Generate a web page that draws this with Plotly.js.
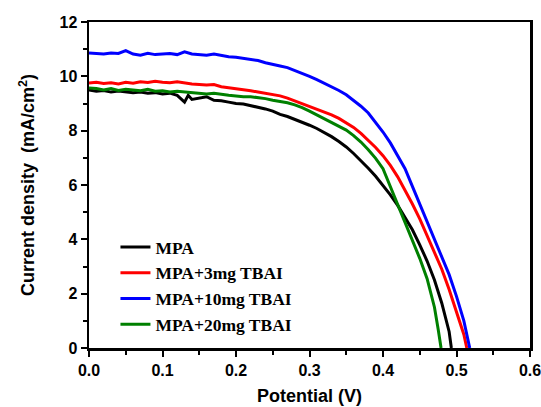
<!DOCTYPE html>
<html>
<head>
<meta charset="utf-8">
<script src="https://cdn.plot.ly/plotly-3.0.1.min.js"></script>
<style>html,body{margin:0;padding:0;background:#fff;}#chart{width:541px;height:407px;}</style>
</head>
<body>
<div id="chart"></div>
<script>
const seriesNames = ["MPA", "MPA+3mg TBAI", "MPA+10mg TBAI", "MPA+20mg TBAI"];
const seriesColors = ["#000000", "#ff0000", "#0000ff", "#008000"];

const vMPA = [0,0.01,0.02,0.03,0.04,0.05,0.06,0.07,0.08,0.09,0.10,0.11,0.12,0.13,0.135,0.14,0.15,0.16,0.17,0.18,0.19,0.20,0.21,0.22,0.23,0.24,0.25,0.26,0.27,0.28,0.29,0.30,0.31,0.32,0.33,0.34,0.35,0.36,0.37,0.38,0.39,0.40,0.41,0.42,0.43,0.44,0.45,0.46,0.47,0.48,0.49,0.493];
const jMPA = [9.50,9.45,9.48,9.42,9.46,9.44,9.40,9.42,9.38,9.40,9.35,9.38,9.30,9.05,9.30,9.15,9.20,9.25,9.12,9.10,9.05,9.00,8.98,8.92,8.88,8.80,8.72,8.60,8.52,8.42,8.32,8.20,8.08,7.94,7.78,7.60,7.40,7.16,6.90,6.62,6.32,6.00,5.64,5.25,4.80,4.35,3.80,3.20,2.50,1.65,0.60,0];

const v3 = [0,0.01,0.02,0.03,0.04,0.05,0.06,0.07,0.08,0.09,0.10,0.11,0.12,0.13,0.14,0.15,0.16,0.17,0.18,0.19,0.20,0.21,0.22,0.23,0.24,0.25,0.26,0.27,0.28,0.29,0.30,0.31,0.32,0.33,0.34,0.35,0.36,0.37,0.38,0.39,0.40,0.41,0.42,0.43,0.44,0.45,0.46,0.47,0.48,0.49,0.50,0.51,0.514];
const j3 = [9.75,9.78,9.74,9.76,9.72,9.78,9.75,9.80,9.77,9.82,9.78,9.76,9.80,9.75,9.72,9.70,9.68,9.70,9.62,9.58,9.55,9.50,9.47,9.42,9.38,9.33,9.28,9.20,9.10,9.00,8.90,8.80,8.70,8.58,8.45,8.30,8.12,7.90,7.65,7.38,7.08,6.72,6.30,5.82,5.30,4.75,4.15,3.55,2.90,2.15,1.35,0.50,0];

const v10 = [0,0.01,0.02,0.03,0.04,0.05,0.06,0.07,0.08,0.09,0.10,0.11,0.12,0.13,0.14,0.15,0.16,0.17,0.18,0.19,0.20,0.21,0.22,0.23,0.24,0.25,0.26,0.27,0.28,0.29,0.30,0.31,0.32,0.33,0.34,0.35,0.36,0.37,0.38,0.39,0.40,0.41,0.42,0.43,0.44,0.45,0.46,0.47,0.48,0.49,0.50,0.51,0.518];
const j10 = [10.86,10.85,10.82,10.86,10.84,10.95,10.82,10.78,10.85,10.80,10.83,10.84,10.80,10.90,10.82,10.80,10.78,10.82,10.76,10.72,10.70,10.66,10.62,10.58,10.50,10.45,10.38,10.32,10.22,10.12,10.00,9.88,9.75,9.62,9.48,9.32,9.12,8.90,8.65,8.32,7.95,7.55,7.10,6.60,5.95,5.30,4.70,4.00,3.40,2.70,1.90,1.00,0];

const v20 = [0,0.01,0.02,0.03,0.04,0.05,0.06,0.07,0.08,0.09,0.10,0.11,0.12,0.13,0.14,0.15,0.16,0.17,0.18,0.19,0.20,0.21,0.22,0.23,0.24,0.25,0.26,0.27,0.28,0.29,0.30,0.31,0.32,0.33,0.34,0.35,0.36,0.37,0.38,0.39,0.40,0.41,0.42,0.43,0.44,0.45,0.46,0.47,0.475,0.478,0.479];
const j20 = [9.57,9.55,9.50,9.55,9.48,9.52,9.50,9.47,9.52,9.45,9.47,9.42,9.45,9.42,9.40,9.38,9.35,9.38,9.33,9.30,9.28,9.25,9.25,9.22,9.18,9.12,9.08,9.03,8.95,8.85,8.72,8.58,8.45,8.32,8.18,8.02,7.82,7.58,7.30,6.98,6.60,5.95,5.28,4.65,4.00,3.30,2.55,1.50,0.70,0.20,0];

const xs = [vMPA, v3, v10, v20];
const ys = [jMPA, j3, j10, j20];

const traces = seriesNames.map((n, i) => ({
  x: xs[i], y: ys[i], name: n, type: 'scatter', mode: 'lines',
  line: {color: seriesColors[i], width: 3}
}));

const axisCommon = {
  showline: true, linecolor: '#000', linewidth: 2.5, mirror: true,
  ticks: 'outside', ticklen: 6, tickwidth: 2, tickcolor: '#000',
  showgrid: false, zeroline: false, ticklabeloverflow: 'allow',
  tickfont: {family: 'Arial, Liberation Sans, sans-serif', size: 16, color: '#000', weight: 'bold'},
};

const layout = {
  width: 541, height: 407,
  margin: {l: 89, r: 11, t: 22, b: 59},
  paper_bgcolor: '#fff', plot_bgcolor: '#fff',
  showlegend: true,
  legend: {x: 0.06, y: 0.365, xanchor: 'left', yanchor: 'top', bgcolor: 'rgba(0,0,0,0)',
    font: {family: 'Liberation Serif, Times New Roman, serif', size: 17.5, color: '#000', weight: 'bold'},
    tracegroupgap: 0},
  xaxis: Object.assign({}, axisCommon, {
    range: [0, 0.6], dtick: 0.1, tickformat: '.1f',
    minor: {ticks: 'outside', ticklen: 4, tickwidth: 2, tickcolor: '#000', dtick: 0.05, showgrid: false},
    title: {text: 'Potential (V)', standoff: 12,
      font: {family: 'Arial, Liberation Sans, sans-serif', size: 18, color: '#000', weight: 'bold'}}
  }),
  yaxis: Object.assign({}, axisCommon, {
    range: [0, 12], dtick: 2,
    minor: {ticks: 'outside', ticklen: 4, tickwidth: 2, tickcolor: '#000', dtick: 1, showgrid: false},
    title: {text: 'Current density  (mA/cm<sup>2</sup>)', standoff: 20,
      font: {family: 'Arial, Liberation Sans, sans-serif', size: 18, color: '#000', weight: 'bold'}}
  })
};

Plotly.newPlot('chart', traces, layout, {staticPlot: true, displayModeBar: false});
</script>
</body>
</html>
